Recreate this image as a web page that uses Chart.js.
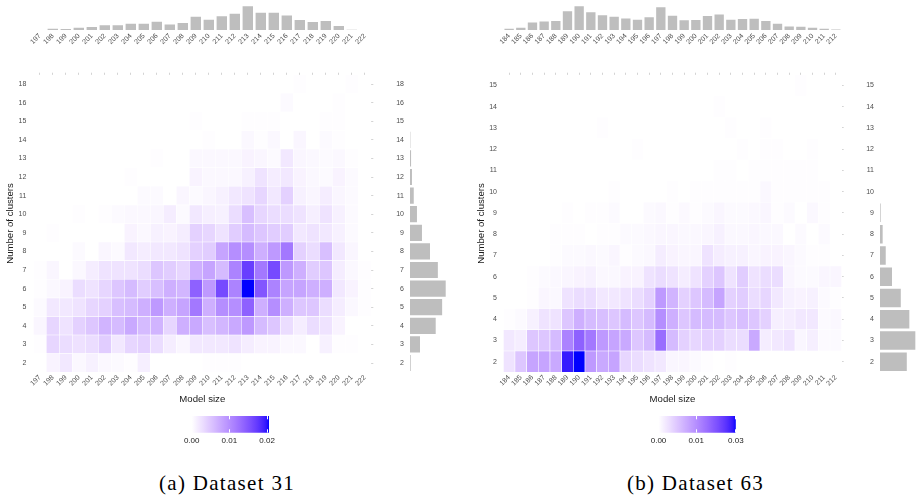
<!DOCTYPE html>
<html><head><meta charset="utf-8">
<script src="https://cdn.jsdelivr.net/npm/chart.js@4.4.1/dist/chart.umd.min.js"></script>
<style>
html,body{margin:0;padding:0;background:#fff;}
#wrap{position:relative;width:922px;height:503px;overflow:hidden;background:#fff;}
canvas{position:absolute;}
.cap{position:absolute;font-family:"Liberation Serif",serif;font-size:21px;line-height:21px;letter-spacing:1.3px;color:#000;white-space:nowrap;transform:translateX(-50%);}
</style></head><body>
<div id="wrap">
  <div class="cap" style="left:227px;top:473px">(a) Dataset 31</div>
  <div class="cap" style="left:695.5px;top:473px">(b) Dataset 63</div>
</div>
<script>
// ================= DATA =================
// (a) Dataset 31
const modelSizeA = ['197','198','199','200','201','202','203','204','205','206','207','208','209','210','211','212','213','214','215','216','217','218','219','220','221','222'];
const clustersA = ['2','3','4','5','6','7','8','9','10','11','12','13','14','15','16','18'];
// cell densities in units of 1e-4, one row per cluster count (2 .. 18), columns = model sizes
const densityA = [
  [0,10,20,6,12,6,4,2,14,0,0,0,0,2,2,2,0,0,0,0,0,0,0,0,0,0],
  [2,36,30,26,30,44,20,36,40,30,16,8,20,20,20,24,16,10,10,6,6,0,12,2,2,0],
  [8,36,24,40,50,66,60,76,60,66,36,70,76,56,64,76,90,60,50,30,16,30,24,10,0,0],
  [4,20,20,24,36,40,56,60,70,90,70,80,120,70,100,100,140,70,100,70,50,50,30,16,6,2],
  [2,6,10,30,24,36,50,60,44,56,70,64,140,90,160,110,205,150,110,80,80,70,70,20,10,2],
  [2,8,0,6,16,24,24,24,30,50,44,36,70,80,60,110,170,120,160,90,70,44,50,16,6,2],
  [0,0,0,4,0,8,4,20,16,20,20,24,40,44,80,100,100,70,90,120,40,30,56,20,8,0],
  [0,2,0,0,0,0,0,10,6,12,10,16,40,36,24,44,60,50,44,44,20,24,20,12,4,0],
  [0,0,0,2,0,2,4,6,6,8,16,4,20,14,12,30,56,36,30,30,24,14,24,12,4,0],
  [0,0,0,0,0,0,0,0,4,4,0,8,4,8,12,20,24,36,20,40,12,8,16,8,4,0],
  [0,0,0,0,0,0,0,2,0,0,0,0,10,6,6,6,12,24,16,20,10,6,4,10,4,0],
  [0,0,0,0,0,0,0,0,0,2,0,0,6,6,6,6,10,8,4,20,8,6,4,6,2,0],
  [0,0,0,0,0,0,0,0,0,0,0,0,0,2,0,0,6,2,6,0,8,0,4,2,0,0],
  [0,0,0,0,0,0,0,0,0,0,0,0,2,0,0,0,2,2,2,0,0,0,2,2,0,0],
  [0,0,0,0,0,0,0,0,0,0,0,0,0,0,0,0,0,0,0,4,0,0,0,2,0,0],
  [0,0,0,0,0,0,0,0,0,0,0,0,0,0,0,0,0,0,0,0,2,0,0,0,2,0]
];
const densityMaxA = 205;                 // colour-scale top, 1e-4 units
const sizeShareA = [0,0.6,0.5,1.1,1.4,2.3,2.3,3.0,3.0,4.0,2.7,3.4,6.4,4.9,6.6,7.8,11.4,8.3,8.3,7.0,4.8,3.8,4.3,1.9,0.1,0];   // % per model size
const clusterShareA = [0.4,5.6,14.4,18.0,20.0,15.6,11.2,6.7,3.9,2.1,1.1,0.6,0.2,0,0,0];                                  // % per cluster count
const legendTicksA = [0, 0.01, 0.02];
const legendLabelsA = ['0.00','0.01','0.02'];

// (b) Dataset 63
const modelSizeB = ['184','185','186','187','188','189','190','191','192','193','194','195','196','197','198','199','200','201','202','203','204','205','206','207','208','209','210','211','212'];
const clustersB = ['2','3','4','5','6','7','8','9','10','11','12','13','14','15'];
const densityB = [
  [24,50,80,80,76,195,205,90,76,80,36,30,24,20,8,8,4,2,0,2,0,0,0,0,0,0,0,0,0],
  [20,16,50,50,60,110,140,120,90,80,76,50,60,130,60,40,36,40,40,30,30,76,16,20,24,8,14,4,4],
  [2,4,12,24,24,50,70,60,56,50,60,50,60,100,70,50,60,60,60,50,56,50,40,14,16,20,20,4,6],
  [0,0,2,8,6,24,30,30,20,20,24,30,40,90,66,40,50,60,80,40,44,30,36,20,12,10,12,4,2],
  [0,0,2,4,6,8,10,12,6,6,10,10,24,30,24,16,24,40,50,24,44,24,30,30,8,4,4,8,8],
  [0,0,0,0,2,4,4,6,4,8,2,4,6,16,10,8,8,24,16,12,12,8,10,10,8,4,2,2,0],
  [0,0,0,0,2,2,2,0,2,2,4,4,6,8,8,6,6,8,12,6,6,8,6,6,0,4,0,4,0],
  [0,0,0,0,0,2,0,2,2,4,0,0,4,6,2,5,2,4,8,4,4,6,8,2,4,0,6,2,0],
  [0,0,0,0,0,0,0,0,0,2,0,0,0,0,2,0,2,2,2,2,2,2,6,2,2,2,2,2,0],
  [0,0,0,0,0,0,0,0,0,0,0,0,0,0,0,0,0,0,2,2,0,2,2,2,2,2,2,0,0],
  [0,0,0,0,0,0,0,0,0,0,0,2,0,0,0,0,0,0,0,0,2,0,2,2,0,0,2,0,0],
  [0,0,0,0,0,0,0,0,2,0,0,0,0,0,0,0,0,0,0,2,0,0,2,0,0,0,0,0,0],
  [0,0,0,0,0,0,0,0,0,0,0,0,0,0,0,0,0,0,2,0,0,0,0,0,0,0,0,0,0],
  [0,0,0,0,0,0,0,0,0,0,0,0,0,0,0,0,0,0,0,0,0,0,0,0,0,2,0,0,0]
];
const densityMaxB = 205;
const sizeShareB = [0.4,0.8,2.5,2.9,3.0,6.3,8.0,6.0,5.0,4.5,3.9,3.5,4.3,7.7,4.8,3.3,3.4,4.7,5.2,3.5,3.7,3.8,3.0,2.1,1.2,1.1,0.8,0.4,0.2];
const clusterShareB = [20.1,26.5,22.0,15.6,9.0,4.3,2.0,0.5,0,0,0,0,0,0];
const legendTicksB = [0, 0.01, 0.0205];
const legendLabelsB = ['0.00','0.01','0.03'];

// ================= STYLE / HELPERS =================
const SANS = '"Liberation Sans", Arial, Helvetica, sans-serif';
Chart.defaults.font.family = SANS;
const GREY = '#4d4d4d';
const DOT = '#d4d4d4';
const HIST = '#bebebe';
const tickFont = {family: SANS, size: 7};
const titleFont = {family: SANS, size: 9.6};
const noGrid = {display: false, drawTicks: false};
const noBorder = {display: false};
const common = {responsive: false, animation: false, events: [], devicePixelRatio: 1,
  plugins: {legend: {display: false}, tooltip: {enabled: false}}};
const wrap = document.getElementById('wrap');
function addCanvas(l, t, w, h) {
  const c = document.createElement('canvas');
  c.width = w; c.height = h;
  Object.assign(c.style, {left: l + 'px', top: t + 'px', width: w + 'px', height: h + 'px'});
  wrap.appendChild(c);
  return c;
}

// white -> blue gradient interpolated in CIE Lab (ggplot2 style)
function s2l(c) { c /= 255; return c <= 0.04045 ? c / 12.92 : Math.pow((c + 0.055) / 1.055, 2.4); }
function l2s(c) { c = c <= 0.0031308 ? 12.92 * c : 1.055 * Math.pow(c, 1 / 2.4) - 0.055; return Math.round(Math.max(0, Math.min(1, c)) * 255); }
const Xn = 0.95047, Yn = 1, Zn = 1.08883;
function rgbToLab(rgb) {
  const [R, G, B] = rgb.map(s2l);
  const X = 0.4124564 * R + 0.3575761 * G + 0.1804375 * B;
  const Y = 0.2126729 * R + 0.7151522 * G + 0.0721750 * B;
  const Z = 0.0193339 * R + 0.1191920 * G + 0.9503041 * B;
  const f = t => t > 0.008856 ? Math.cbrt(t) : (7.787 * t + 16 / 116);
  const fx = f(X / Xn), fy = f(Y / Yn), fz = f(Z / Zn);
  return [116 * fy - 16, 500 * (fx - fy), 200 * (fy - fz)];
}
function labToRgb([L, a, b]) {
  const fy = (L + 16) / 116, fx = fy + a / 500, fz = fy - b / 200;
  const fi = t => t * t * t > 0.008856 ? t * t * t : (t - 16 / 116) / 7.787;
  const X = Xn * fi(fx), Y = Yn * fi(fy), Z = Zn * fi(fz);
  const R = 3.2404542 * X - 1.5371385 * Y - 0.4985314 * Z;
  const G = -0.9692660 * X + 1.8760108 * Y + 0.0415560 * Z;
  const B = 0.0556434 * X - 0.2040259 * Y + 1.0572252 * Z;
  return [l2s(R), l2s(G), l2s(B)];
}
const LAB_LO = rgbToLab([255, 255, 255]), LAB_HI = rgbToLab([0, 0, 255]);
function fillColor(t) {
  t = Math.max(0, Math.min(1, t));
  const [r, g, b] = labToRgb(LAB_LO.map((v, i) => v + (LAB_HI[i] - v) * t));
  return `rgb(${r},${g},${b})`;
}

// ================= CHART BUILDERS =================
function heatmap(pos, xLabels, yLabels, rows, vmax, g) {
  const c = addCanvas(pos.l, pos.t, pos.w, pos.h);
  const n = yLabels.length;
  const yTicks = s => { s.ticks = yLabels.map((_, i) => ({value: i})); };
  const datasets = rows.map((row, r) => ({
    data: row.map(() => [r - 0.5, r + 0.5]),
    backgroundColor: row.map(v => fillColor(v / vmax)),
    borderColor: '#ffffff', borderWidth: 0.6, borderSkipped: false,
    barPercentage: 1, categoryPercentage: 1, grouped: false
  }));
  new Chart(c, {type: 'bar', data: {labels: xLabels, datasets}, options: {...common,
    layout: {padding: {top: g.padTop, right: g.padRight, left: 0, bottom: 0}},
    scales: {
      x: {type: 'category', offset: true, grid: noGrid, border: noBorder,
        ticks: {font: tickFont, color: GREY, minRotation: 45, maxRotation: 45, autoSkip: false, padding: 1},
        title: {display: true, text: 'Model size', font: titleFont, color: '#1a1a1a', padding: {top: 0, bottom: 0}},
        afterFit: s => { s.height = g.xAxisH; }},
      xt: {type: 'category', labels: xLabels, position: 'top', offset: true,
        grid: {display: true, offset: false, drawOnChartArea: false, drawTicks: true, tickLength: 2, color: DOT},
        border: noBorder, ticks: {display: false}, afterFit: s => { s.height = 2; }},
      y: {type: 'linear', min: -0.5, max: n - 0.5, afterBuildTicks: yTicks, grid: noGrid, border: noBorder,
        ticks: {font: tickFont, color: GREY, padding: g.yTickPad, callback: v => yLabels[v]},
        title: {display: true, text: 'Number of clusters', font: titleFont, color: '#1a1a1a', padding: {top: g.yTitlePad, bottom: 0}},
        afterFit: s => { s.width = g.yAxisW; }},
      yr: {type: 'linear', position: 'right', min: -0.5, max: n - 0.5, afterBuildTicks: yTicks,
        grid: {display: true, drawOnChartArea: false, drawTicks: true, tickLength: 2, color: DOT},
        border: noBorder, ticks: {display: false}, afterFit: s => { s.width = 2; }}
    }}});
}

function topHist(pos, xLabels, values, yMax, g) {
  const c = addCanvas(pos.l, pos.t, pos.w, pos.h);
  new Chart(c, {type: 'bar', data: {labels: xLabels, datasets: [{data: values, backgroundColor: HIST,
      barPercentage: 0.8, categoryPercentage: 1}]},
    options: {...common,
      layout: {padding: {top: g.padTop, right: g.padRight, left: 0, bottom: 0}},
      scales: {
        x: {grid: noGrid, border: noBorder,
          ticks: {font: tickFont, color: GREY, minRotation: 45, maxRotation: 45, autoSkip: false, padding: 2},
          afterFit: s => { s.height = g.xAxisH; }},
        y: {min: 0, max: yMax, grid: noGrid, border: noBorder, ticks: {display: false},
          afterFit: s => { s.width = g.yAxisW; }}
      }}});
}

function sideHist(pos, yLabels, values, xMax, g) {
  const c = addCanvas(pos.l, pos.t, pos.w, pos.h);
  new Chart(c, {type: 'bar', data: {labels: yLabels, datasets: [{data: values, backgroundColor: HIST,
      barPercentage: 0.87, categoryPercentage: 1}]},
    options: {...common, indexAxis: 'y',
      layout: {padding: {top: g.padTop, right: g.padRight, left: 0, bottom: 0}},
      scales: {
        y: {reverse: true, grid: noGrid, border: noBorder,
          ticks: {font: tickFont, color: GREY, padding: g.yTickPad, autoSkip: false},
          afterFit: s => { s.width = g.yAxisW; }},
        x: {min: 0, max: xMax, grid: noGrid, border: noBorder, ticks: {display: false},
          afterFit: s => { s.height = g.xAxisH; }}
      }}});
}

function colorbar(pos, vmax, tickVals, tickLabels, g) {
  const c = addCanvas(pos.l, pos.t, pos.w, pos.h);
  new Chart(c, {type: 'bar', data: {labels: [''], datasets: [{
      data: [[0, vmax]], borderSkipped: false, barPercentage: 1, categoryPercentage: 1,
      backgroundColor: ctx => {
        const ch = ctx.chart, sx = ch.scales.x;
        if (!sx || !ch.chartArea) return '#ffffff';
        const gr = ch.ctx.createLinearGradient(sx.getPixelForValue(0), 0, sx.getPixelForValue(vmax), 0);
        for (let i = 0; i <= 40; i++) gr.addColorStop(i / 40, fillColor(i / 40));
        return gr;
      }}]},
    options: {...common, indexAxis: 'y',
      layout: {padding: {top: g.padTop, right: g.padRight, left: 0, bottom: 0}},
      scales: {
        x: {type: 'linear', min: 0, max: vmax,
          afterBuildTicks: s => { s.ticks = tickVals.map(v => ({value: v})); },
          ticks: {font: {family: SANS, size: 8}, color: '#1a1a1a', padding: 3, callback: (v, i) => tickLabels[i]},
          grid: {display: true, color: '#ffffff', lineWidth: 1, drawTicks: false, z: 1},
          border: {display: false, dash: [3.3, 10]},
          afterFit: s => { s.height = g.xAxisH; }},
        y: {grid: noGrid, border: noBorder, ticks: {display: false}, afterFit: s => { s.width = g.yAxisW; }}
      }}});
}

// ================= PANEL (a) =================
topHist({l: 0, t: 0, w: 385, h: 60}, modelSizeA, sizeShareA, 12.0,
  {padTop: 5, padRight: 13.7, xAxisH: 30, yAxisW: 33.3});
heatmap({l: 0, t: 60, w: 385, h: 345}, modelSizeA, clustersA, densityA, densityMaxA,
  {padTop: 12.7, padRight: 11.7, yAxisW: 33.3, xAxisH: 32.7, yTickPad: 7, yTitlePad: 4.2});
sideHist({l: 378, t: 60, w: 77, h: 345}, clustersA, clusterShareA, 22.4,
  {padTop: 14.7, padRight: 5, yAxisW: 32, xAxisH: 32.7, yTickPad: 6});
colorbar({l: 180, t: 406, w: 100, h: 44}, densityMaxA / 10000, legendTicksA, legendLabelsA,
  {padTop: 10, padRight: 11, yAxisW: 11.7, xAxisH: 17.3});

// ================= PANEL (b) =================
topHist({l: 460, t: 0, w: 395, h: 60}, modelSizeB, sizeShareB, 8.44,
  {padTop: 5, padRight: 13.3, xAxisH: 30, yAxisW: 43.3});
heatmap({l: 460, t: 60, w: 395, h: 345}, modelSizeB, clustersB, densityB, densityMaxB,
  {padTop: 12.7, padRight: 11.3, yAxisW: 43.3, xAxisH: 32.7, yTickPad: 6.3, yTitlePad: 15.2});
sideHist({l: 850, t: 60, w: 72, h: 345}, clustersB, clusterShareB, 30.0,
  {padTop: 14.7, padRight: 2, yAxisW: 30, xAxisH: 32.7, yTickPad: 6});
colorbar({l: 647, t: 406, w: 100, h: 44}, densityMaxB / 10000, legendTicksB, legendLabelsB,
  {padTop: 10, padRight: 11.2, yAxisW: 11.5, xAxisH: 17.3});
</script>
</body></html>
